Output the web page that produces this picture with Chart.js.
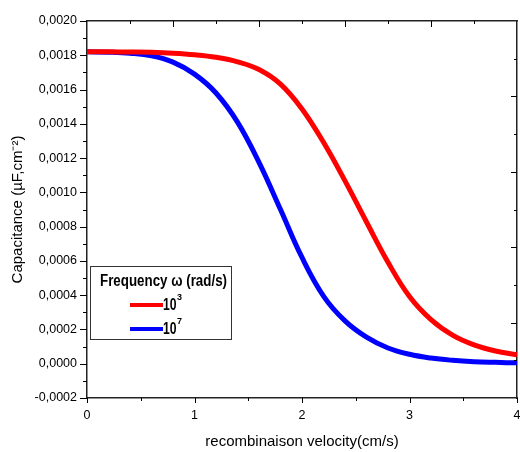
<!DOCTYPE html>
<html>
<head>
<meta charset="utf-8">
<script src="https://cdn.jsdelivr.net/npm/chart.js@4.4.1/dist/chart.umd.min.js"></script>
<style>
  html, body { margin: 0; padding: 0; background: #fff; }
</style>
</head>
<body>
<canvas id="chart" width="520" height="452"></canvas>
<script>
// recombination velocity (cm/s)
const velocity = [0, 0.2, 0.4, 0.6, 0.8, 1.0, 1.2, 1.4, 1.6, 1.8, 2.0,
                  2.2, 2.4, 2.6, 2.8, 3.0, 3.2, 3.4, 3.6, 3.8, 4.0];
// capacitance for omega = 10^3 rad/s
const capW3 = [0.001820, 0.001820, 0.001819, 0.001817, 0.001812, 0.001803, 0.001788,
               0.001762, 0.001717, 0.001632, 0.001487, 0.001292, 0.001067, 0.000827,
               0.000592, 0.000392, 0.000257, 0.000167, 0.000110, 0.000074, 0.000052];
// capacitance for omega = 10^7 rad/s
const capW7 = [0.001820, 0.001818, 0.001812, 0.001797, 0.001760, 0.001690, 0.001580,
               0.001410, 0.001175, 0.000900, 0.000620, 0.000395, 0.000250, 0.000155,
               0.000092, 0.000055, 0.000033, 0.000020, 0.000012, 0.000008, 0.000005];

const seriesBase = '10';
const seriesExp = ['3', '7'];
const seriesColors = ['#ff0000', '#0000ff'];
const legendTitle = 'Frequency \u03c9 (rad/s)';

const xMin = 0, xMax = 4;
const yMin = -0.0002, yMax = 0.0020;

const FONT = "'Liberation Sans', Arial, sans-serif";

// text squeezed to a given width (the original uses a narrow bold face)
function narrowText(ctx, text, x, y, width) {
  const w = ctx.measureText(text).width;
  ctx.save();
  ctx.translate(x, y);
  ctx.scale(Math.min(1, width / w), 1);
  ctx.fillText(text, 0, 0);
  ctx.restore();
  return Math.min(w, width);
}

// extra ticks (minor ones + inward ticks on top/right), Origin style
const axisTicks = {
  id: 'axisTicks',
  afterDraw(chart) {
    const { ctx, chartArea: a, scales: { x, y } } = chart;
    ctx.save();
    ctx.strokeStyle = '#000';
    ctx.lineWidth = 1;
    ctx.beginPath();
    for (let i = 0; i <= 22; i++) {
      const py = Math.round(y.getPixelForValue(yMin + i * 0.0001)) + 0.5;
      const len = i % 2 === 0 ? 7 : 4;
      ctx.moveTo(a.left, py); ctx.lineTo(a.left - len, py);
    }
    for (let i = 0; i <= 8; i++) {
      const px = Math.round(x.getPixelForValue(i * 0.5)) + 0.5;
      const len = i % 2 === 0 ? 5 : 3;
      ctx.moveTo(px, a.bottom); ctx.lineTo(px, a.bottom + len);
    }
    for (let i = 1; i < 10; i++) {
      const px = Math.round(x.getPixelForValue(xMin + i * (xMax - xMin) / 10)) + 0.5;
      const len = i % 2 === 0 ? 6 : 3;
      ctx.moveTo(px, a.top); ctx.lineTo(px, a.top + len);
    }
    for (let i = 1; i < 10; i++) {
      const py = Math.round(y.getPixelForValue(yMax - i * (yMax - yMin) / 10)) + 0.5;
      const len = i % 2 === 0 ? 6 : 3;
      ctx.moveTo(a.right, py); ctx.lineTo(a.right - len, py);
    }
    ctx.stroke();
    ctx.restore();
  }
};

// boxed legend in the lower-left of the plot
const boxLegend = {
  id: 'boxLegend',
  afterDatasetsDraw(chart) {
    const { ctx, chartArea: a } = chart;
    const bx = a.left + 3, by = a.top + 245, bw = 141, bh = 73;
    ctx.save();
    ctx.fillStyle = '#fff';
    ctx.fillRect(bx, by, bw, bh);
    ctx.strokeStyle = '#333';
    ctx.lineWidth = 1;
    ctx.strokeRect(bx + 0.5, by + 0.5, bw, bh);

    ctx.fillStyle = '#000';
    ctx.textBaseline = 'middle';
    ctx.font = 'bold 16px ' + FONT;
    narrowText(ctx, legendTitle, bx + 10, by + 16, 127);

    chart.data.datasets.forEach((ds, i) => {
      const ly = by + 39 + i * 24;
      ctx.strokeStyle = ds.borderColor;
      ctx.lineWidth = 4;
      ctx.beginPath();
      ctx.moveTo(bx + 40, ly);
      ctx.lineTo(bx + 73, ly);
      ctx.stroke();
      ctx.fillStyle = '#000';
      ctx.font = 'bold 16px ' + FONT;
      const w = narrowText(ctx, seriesBase, bx + 73, ly + 1, 13.5);
      ctx.font = 'bold 9px ' + FONT;
      narrowText(ctx, seriesExp[i], bx + 73.5 + w, ly - 7, 5);
    });
    ctx.restore();
  }
};

const ctx = document.getElementById('chart').getContext('2d');
new Chart(ctx, {
  type: 'line',
  data: {
    datasets: [
      {
        label: seriesBase + '^' + seriesExp[0],
        data: velocity.map((v, i) => ({ x: v, y: capW3[i] })),
        borderColor: seriesColors[0],
        borderWidth: 5,
        pointRadius: 0,
        tension: 0.4,
        fill: false,
      },
      {
        label: seriesBase + '^' + seriesExp[1],
        data: velocity.map((v, i) => ({ x: v, y: capW7[i] })),
        borderColor: seriesColors[1],
        borderWidth: 5,
        pointRadius: 0,
        tension: 0.4,
        fill: false,
      },
    ],
  },
  options: {
    responsive: false,
    animation: false,
    layout: { padding: 0 },
    plugins: {
      legend: { display: false },
      tooltip: { enabled: false },
    },
    scales: {
      x: {
        type: 'linear',
        position: 'bottom',
        min: xMin,
        max: xMax,
        grid: { display: false, drawTicks: false },
        border: { display: true, color: '#222', width: 1.5 },
        ticks: {
          stepSize: 1,
          padding: 10,
          color: '#000',
          font: { family: FONT, size: 12.5 },
          maxRotation: 0,
        },
        title: {
          display: true,
          text: 'recombinaison velocity(cm/s)',
          color: '#000',
          font: { family: FONT, size: 15 },
          padding: { top: 0, bottom: 1 },
        },
        afterFit(scale) {
          scale.height = 54;
          scale.paddingLeft = 0;
          scale.paddingRight = 0;
        },
      },
      x2: {
        type: 'linear',
        position: 'top',
        min: xMin,
        max: xMax,
        grid: { display: false, drawTicks: false },
        border: { display: true, color: '#222', width: 1.5 },
        ticks: { display: false },
        afterFit(scale) {
          scale.height = 21;
          scale.paddingLeft = 0;
          scale.paddingRight = 0;
        },
      },
      y: {
        type: 'linear',
        position: 'left',
        min: yMin,
        max: yMax,
        grid: { display: false, drawTicks: false },
        border: { display: true, color: '#222', width: 1.5 },
        ticks: {
          stepSize: 0.0002,
          padding: 10,
          color: '#000',
          font: { family: FONT, size: 12.5 },
          callback: v => v.toFixed(4).replace('.', ','),
        },
        title: {
          display: true,
          text: 'Capacitance (\u00b5F,cm\u207b\u00b2)',
          color: '#000',
          font: { family: FONT, size: 15 },
          padding: { top: 9, bottom: 0 },
        },
        afterFit(scale) {
          scale.width = 87;
          scale.paddingTop = 0;
          scale.paddingBottom = 0;
        },
      },
      y2: {
        type: 'linear',
        position: 'right',
        min: yMin,
        max: yMax,
        grid: { display: false, drawTicks: false },
        border: { display: true, color: '#222', width: 1.5 },
        ticks: { display: false },
        afterFit(scale) {
          scale.width = 3;
          scale.paddingTop = 0;
          scale.paddingBottom = 0;
        },
      },
    },
  },
  plugins: [axisTicks, boxLegend],
});
</script>
</body>
</html>
